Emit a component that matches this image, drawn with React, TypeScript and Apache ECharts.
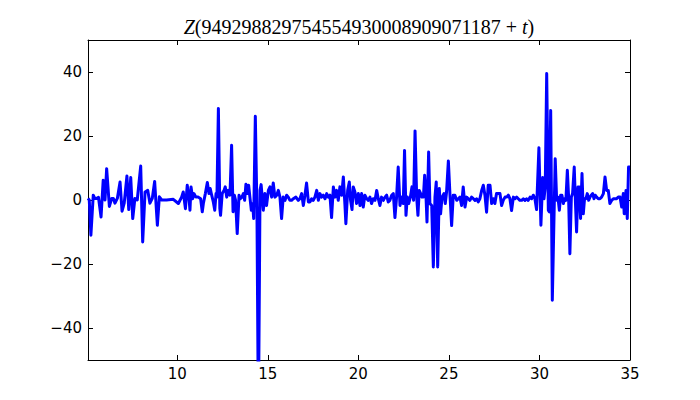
import React, { useEffect, useRef } from 'react';
import * as echarts from 'echarts';

const tValues = [
  5.07, 5.14, 5.23, 5.36, 5.45, 5.55, 5.65, 5.79, 5.91, 6.01, 6.10, 6.25, 6.38, 6.47, 6.56, 6.69, 6.84, 6.95, 7.07, 7.22,
  7.32, 7.43, 7.54, 7.66, 7.79, 7.98, 8.09, 8.22, 8.37, 8.49, 8.62, 8.75, 8.90, 9.01, 9.14, 9.41, 9.78, 10.06, 10.24, 10.33,
  10.45, 10.55, 10.65, 10.70, 10.76, 10.85, 10.92, 11.03, 11.16, 11.29, 11.38, 11.44, 11.55, 11.66, 11.75, 11.82, 11.90, 11.99, 12.07, 12.14,
  12.19, 12.27, 12.35, 12.39, 12.48, 12.58, 12.65, 12.73, 12.82, 12.91, 13.00, 13.08, 13.15, 13.22, 13.31, 13.41, 13.48, 13.57, 13.65, 13.72,
  13.79, 13.89, 13.94, 14.01, 14.09, 14.16, 14.22, 14.31, 14.40, 14.48, 14.57, 14.63, 14.75, 14.84, 14.93, 15.03, 15.12, 15.21, 15.30, 15.39,
  15.49, 15.58, 15.67, 15.76, 15.85, 15.95, 16.04, 16.13, 16.22, 16.31, 16.41, 16.55, 16.68, 16.77, 16.87, 16.96, 17.05, 17.14, 17.24, 17.33,
  17.42, 17.51, 17.60, 17.70, 17.79, 17.88, 17.97, 18.06, 18.16, 18.25, 18.34, 18.43, 18.52, 18.62, 18.71, 18.80, 18.89, 18.98, 19.08, 19.17,
  19.26, 19.31, 19.41, 19.50, 19.57, 19.65, 19.72, 19.81, 19.90, 20.00, 20.09, 20.18, 20.27, 20.36, 20.46, 20.55, 20.64, 20.73, 20.82, 20.92,
  21.01, 21.10, 21.19, 21.28, 21.38, 21.47, 21.56, 21.65, 21.74, 21.84, 21.93, 22.02, 22.11, 22.20, 22.30, 22.39, 22.48, 22.55, 22.63, 22.70,
  22.78, 22.87, 22.96, 23.05, 23.13, 23.22, 23.29, 23.36, 23.44, 23.51, 23.59, 23.66, 23.73, 23.79, 23.88, 23.95, 24.05, 24.14, 24.23, 24.30,
  24.38, 24.47, 24.54, 24.62, 24.73, 24.80, 24.87, 24.97, 25.06, 25.15, 25.24, 25.33, 25.43, 25.52, 25.61, 25.70, 25.79, 25.89, 25.98, 26.07,
  26.16, 26.25, 26.35, 26.44, 26.53, 26.62, 26.71, 26.81, 26.90, 26.99, 27.08, 27.17, 27.27, 27.36, 27.45, 27.54, 27.63, 27.73, 27.82, 27.91,
  28.00, 28.10, 28.19, 28.28, 28.37, 28.46, 28.56, 28.65, 28.74, 28.83, 28.92, 29.02, 29.11, 29.20, 29.29, 29.38, 29.48, 29.57, 29.66, 29.75,
  29.84, 29.97, 30.08, 30.18, 30.25, 30.32, 30.40, 30.49, 30.54, 30.62, 30.71, 30.87, 30.95, 31.02, 31.10, 31.17, 31.24, 31.32, 31.39, 31.46,
  31.54, 31.61, 31.68, 31.76, 31.83, 31.92, 31.99, 32.05, 32.13, 32.20, 32.27, 32.35, 32.42, 32.49, 32.57, 32.64, 32.72, 32.79, 32.86, 32.94,
  33.01, 33.08, 33.16, 33.25, 33.34, 33.43, 33.53, 33.62, 33.71, 33.80, 33.89, 33.99, 34.08, 34.17, 34.26, 34.35, 34.45, 34.54, 34.63, 34.68,
  34.78, 34.85, 34.92, 35.00,
];

const zValues = [
  0.5, 0, -11, 1.5, 0.5, 0.5, 0.8, -5.3, 6.2, 0, 9.8, -2, 0.5, 0.5, -1, 0.5, 5.6, -3.5, -1, 7.5,
  -3, 7, -5.8, 0.5, 0, 10.6, -13.1, 2.5, 3, -1, 0.5, 5.8, -7.9, 1, 0, 0, 0.2, -1.1, 0.9, 2.5,
  -2.7, 4.6, 0.4, -3.2, 4.1, 0.4, 2.0, 0.9, 0.9, 0.4, -3.7, -1.1, 2.0, 5.5, 2.0, 3.6, 1.5, -0.6, -3.2, 2.0,
  0.9, 28.6, -2.7, -4.8, 2.0, 3.0, 4.1, 0.9, 3.0, 1.5, 17.1, -3.7, 1.5, -0.1, -10.5, 1.5, 0.4, 0.9, 2.0, -0.1,
  4.9, 2.0, 4.6, 0.9, -3.2, -1.1, -5.8, 26.2, -3.2, -70, 3.0, 4.8, -3.2, 2.0, -1.7, 3.0, 4.1, 0.9, 5.3, 0.9,
  1.5, 3.0, 0.9, -5.8, 0.9, -0.1, 1.5, 0.9, -0.1, -0.1, 0.4, 0.9, -0.1, 0.4, 2.0, -1.7, 1.5, 5.3, -0.6, -0.6,
  0.4, -0.1, 0.9, 3.0, -0.1, 2.0, 0.9, 1.5, 0.4, 2.0, 0.9, 1.5, -5.5, 4.1, 0.9, 3.0, -0.1, 4.1, 1.5, 7.2,
  -1.7, -7.4, 3.0, 5.6, -0.1, -3.0, 4.1, 2.5, -1.1, 2.0, -1.7, 2.0, -2.2, 1.5, 0.4, -0.1, 0.9, -1.1, 0.4, -0.1,
  3.0, 0.4, -1.7, 0.9, -0.1, 0.9, 1.5, -0.6, -0.1, 1.5, 2.0, -5.5, 0.9, 10.3, -1.7, 0.9, -1.1, 15.5, -4.8, 0.9,
  -1.1, 0.9, 4.1, -0.1, 21.6, 0.9, -4.8, 3.0, 2.0, 0.9, 0.9, 7.7, 2.0, -6.9, 15.0, -1.1, -1.7, -20.9, 0.9, 5.6,
  -20.9, 3.6, -4.3, 0.9, 2.0, -1.1, 2.5, 12.2, 1.5, -8.0, 1.5, 1.5, -0.1, 0.4, 0.9, -1.7, 4.1, -2.2, 0.9, 0.4,
  -0.1, 0.9, 0.4, -0.1, 0.4, -0.6, 0.4, 3.0, 4.6, 1.5, -3.8, 4.6, 4.6, -1.1, 0.4, -1.1, 2.0, 2.0, 2.0, -1.7,
  -0.1, 0.9, 0.9, 1.5, 0.4, -3.3, 0.9, 0.4, 0.9, 0.4, -0.1, -0.1, 0.4, -0.1, 0.4, -0.1, 0.9, 0.4, 1.5, 0.4,
  -3.0, 16.3, -7.9, 7.0, 0.4, 4.1, 39.5, -3.2, -3.7, 28.0, -31.3, 12.9, -0.1, 0.9, -3.2, 1.5, 1.5, -1.1, 0.4, -0.1,
  9.3, 0.9, -16.8, 0.9, 2.0, 10.3, -1.1, -10.0, 4.1, 4.1, -5.8, 8.3, -4.3, 0.4, 0.4, 2.0, -0.1, 0.9, 1.5, 2.0,
  0.4, 1.5, 0.9, 0.4, 0.4, 0.9, 2.0, 7.2, 3.0, 3.0, -1.1, -0.1, 0.4, 0.4, 0.4, 0.9, 0.9, -2.2, 2.0, -4.3,
  3.0, -5.8, 10.3, 10.3,
];

const xTickValues = [10, 15, 20, 25, 30, 35];
const yTickValues = [-40, -20, 0, 20, 40];
const titleNumber = '949298829754554930008909071187';

const xMin = 5.07;
const xMax = 35;
const yMin = -50;
const yMax = 50;

export default function App() {
  const ref = useRef<HTMLDivElement>(null);

  useEffect(() => {
    document.body.style.margin = '0';
    const chart = echarts.init(ref.current as HTMLDivElement, null, { renderer: 'svg' });
    const fmt = (v: number) => (v < 0 ? '\u2212' + Math.abs(v) : String(v));
    const labelStyle = { fontFamily: 'DejaVu Sans', fontSize: 15, color: '#000' };
    const lineSt = { color: '#000', width: 1 };

    const makeX = (position: 'bottom' | 'top', showLabel: boolean) => ({
      type: 'value',
      min: xMin,
      max: xMax,
      position,
      axisLine: { show: true, onZero: false, lineStyle: lineSt },
      axisTick: { show: true, inside: true, length: 5, customValues: xTickValues, lineStyle: lineSt },
      axisLabel: { show: showLabel, customValues: xTickValues, formatter: fmt, margin: 6, ...labelStyle },
      splitLine: { show: false },
    });
    const makeY = (position: 'left' | 'right', showLabel: boolean) => ({
      type: 'value',
      min: yMin,
      max: yMax,
      position,
      axisLine: { show: true, onZero: false, lineStyle: lineSt },
      axisTick: { show: true, inside: true, length: 5, customValues: yTickValues, lineStyle: lineSt },
      axisLabel: { show: showLabel, customValues: yTickValues, formatter: fmt, margin: 6, ...labelStyle },
      splitLine: { show: false },
    });

    chart.setOption({
      animation: false,
      backgroundColor: '#ffffff',
      grid: { left: 88, right: 70, top: 40, bottom: 40, containLabel: false },
      xAxis: [makeX('bottom', true), makeX('top', false)],
      yAxis: [makeY('left', true), makeY('right', false)],
      series: [
        {
          type: 'line',
          xAxisIndex: 0,
          yAxisIndex: 0,
          data: tValues.map((t, i) => [t, zValues[i]]),
          showSymbol: false,
          symbol: 'none',
          clip: true,
          lineStyle: { color: '#0000ff', width: 3, join: 'round' },
        },
      ],
      graphic: [
        {
          type: 'text',
          x: 359,
          y: 27,
          style: {
            text: '{i|Z}(' + titleNumber + ' + {i|t})',
            align: 'center',
            verticalAlign: 'middle',
            fontFamily: 'Liberation Serif',
            fontSize: 20,
            fill: '#000',
            rich: {
              i: { fontStyle: 'italic', fontFamily: 'Liberation Serif', fontSize: 20 },
            },
          },
        },
      ],
    });
    return () => chart.dispose();
  }, []);

  return <div ref={ref} style={{ width: 700, height: 400 }} />;
}
